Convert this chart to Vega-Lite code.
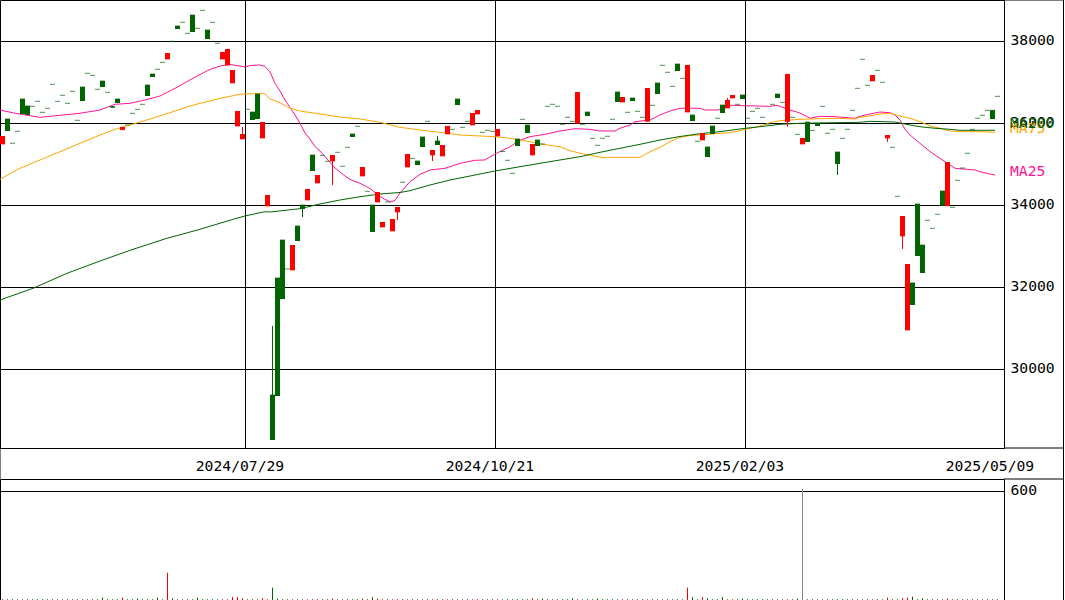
{
"$schema":"https://vega.github.io/schema/vega-lite/v6.json",
"padding":{"left":-1,"top":-1,"right":0,"bottom":0},
"background":"white",
"spacing":31,
"bounds":"flush",
"config":{
 "view":{"stroke":"black","strokeWidth":1},
 "axis":{"labelFont":"DejaVu Sans Mono","labelFontSize":14.7,"labelColor":"black","domain":false,"ticks":false,"tickSize":0,"gridColor":"black","gridOpacity":1,"gridWidth":1},
 "text":{"font":"DejaVu Sans Mono","fontSize":14.7}
},
"datasets":{
"candles":[
{"i":0,"o":35683,"h":35683,"l":35488,"c":35488,"v":4},
{"i":1,"o":35805,"h":36098,"l":35805,"c":36098,"v":4},
{"i":2,"o":35505,"h":35505,"l":35505,"c":35505,"v":4},
{"i":3,"o":35798,"h":35798,"l":35798,"c":35798,"v":4},
{"i":4,"o":36220,"h":36585,"l":36220,"c":36585,"v":4},
{"i":5,"o":36195,"h":36415,"l":36195,"c":36415,"v":4},
{"i":6,"o":36407,"h":36407,"l":36407,"c":36407,"v":4},
{"i":7,"o":36529,"h":36529,"l":36529,"c":36529,"v":4},
{"i":8,"o":36261,"h":36261,"l":36261,"c":36261,"v":4},
{"i":9,"o":36359,"h":36359,"l":36359,"c":36359,"v":4},
{"i":10,"o":36944,"h":36944,"l":36944,"c":36944,"v":4},
{"i":11,"o":36529,"h":36529,"l":36529,"c":36529,"v":4},
{"i":12,"o":36676,"h":36676,"l":36676,"c":36676,"v":4},
{"i":13,"o":36480,"h":36480,"l":36480,"c":36480,"v":4},
{"i":14,"o":36773,"h":36773,"l":36773,"c":36773,"v":4},
{"i":15,"o":36066,"h":36066,"l":36066,"c":36066,"v":4},
{"i":16,"o":36537,"h":36878,"l":36537,"c":36878,"v":4},
{"i":17,"o":37212,"h":37212,"l":37212,"c":37212,"v":4},
{"i":18,"o":37163,"h":37163,"l":37163,"c":37163,"v":4},
{"i":19,"o":36822,"h":36822,"l":36822,"c":36822,"v":4},
{"i":20,"o":36878,"h":37024,"l":36878,"c":37024,"v":13},
{"i":21,"o":36749,"h":36749,"l":36749,"c":36749,"v":4},
{"i":22,"o":36373,"h":36402,"l":36373,"c":36402,"v":4},
{"i":23,"o":36488,"h":36585,"l":36488,"c":36585,"v":4},
{"i":24,"o":35902,"h":35902,"l":35837,"c":35837,"v":13},
{"i":25,"o":35951,"h":35951,"l":35951,"c":35951,"v":4},
{"i":26,"o":36237,"h":36237,"l":36237,"c":36237,"v":4},
{"i":27,"o":36334,"h":36334,"l":36334,"c":36334,"v":8},
{"i":28,"o":36456,"h":36456,"l":36456,"c":36456,"v":4},
{"i":29,"o":36659,"h":36927,"l":36659,"c":36927,"v":4},
{"i":30,"o":37122,"h":37195,"l":37122,"c":37195,"v":4},
{"i":31,"o":37310,"h":37310,"l":37310,"c":37310,"v":13},
{"i":32,"o":37480,"h":37480,"l":37480,"c":37480,"v":4},
{"i":33,"o":37707,"h":37707,"l":37561,"c":37561,"v":150},
{"i":34,"o":37993,"h":37993,"l":37993,"c":37993,"v":10},
{"i":35,"o":38293,"h":38366,"l":38293,"c":38366,"v":4},
{"i":36,"o":38456,"h":38456,"l":38456,"c":38456,"v":4},
{"i":37,"o":38188,"h":38188,"l":38188,"c":38188,"v":4},
{"i":38,"o":38220,"h":38634,"l":38220,"c":38634,"v":4},
{"i":39,"o":38310,"h":38310,"l":38310,"c":38310,"v":13},
{"i":40,"o":38749,"h":38749,"l":38749,"c":38749,"v":4},
{"i":41,"o":38049,"h":38268,"l":38049,"c":38268,"v":4},
{"i":42,"o":38456,"h":38456,"l":38456,"c":38456,"v":4},
{"i":43,"o":37944,"h":37944,"l":37944,"c":37944,"v":4},
{"i":44,"o":37732,"h":37732,"l":37561,"c":37561,"v":4},
{"i":45,"o":37805,"h":37805,"l":37415,"c":37415,"v":4},
{"i":46,"o":37293,"h":37293,"l":36976,"c":36976,"v":16},
{"i":47,"o":36293,"h":36293,"l":35927,"c":35927,"v":16},
{"i":48,"o":35732,"h":35902,"l":35610,"c":35610,"v":10},
{"i":49,"o":36334,"h":36334,"l":36334,"c":36334,"v":4},
{"i":50,"o":36073,"h":36268,"l":36073,"c":36268,"v":4},
{"i":51,"o":36098,"h":36707,"l":36098,"c":36707,"v":4},
{"i":52,"o":36024,"h":36024,"l":35634,"c":35634,"v":10},
{"i":53,"o":34244,"h":34244,"l":33976,"c":33976,"v":4},
{"i":54,"o":28268,"h":31049,"l":28268,"c":29366,"v":68},
{"i":55,"o":29342,"h":32220,"l":29342,"c":32220,"v":8},
{"i":56,"o":31707,"h":33146,"l":31707,"c":33146,"v":4},
{"i":57,"o":32439,"h":32439,"l":32439,"c":32439,"v":4},
{"i":58,"o":33024,"h":33024,"l":32415,"c":32415,"v":4},
{"i":59,"o":33122,"h":33488,"l":33122,"c":33488,"v":4},
{"i":60,"o":33902,"h":34000,"l":33707,"c":34000,"v":4},
{"i":61,"o":34390,"h":34390,"l":34122,"c":34122,"v":4},
{"i":62,"o":34829,"h":35220,"l":34829,"c":35220,"v":4},
{"i":63,"o":34732,"h":34732,"l":34537,"c":34537,"v":4},
{"i":64,"o":35212,"h":35212,"l":35212,"c":35212,"v":4},
{"i":65,"o":35066,"h":35066,"l":35066,"c":35066,"v":4},
{"i":66,"o":35220,"h":35220,"l":34488,"c":35073,"v":8},
{"i":67,"o":35285,"h":35285,"l":35285,"c":35285,"v":4},
{"i":68,"o":34944,"h":34944,"l":34944,"c":34944,"v":4},
{"i":69,"o":35407,"h":35407,"l":35407,"c":35407,"v":4},
{"i":70,"o":35659,"h":35732,"l":35659,"c":35732,"v":4},
{"i":71,"o":35920,"h":35920,"l":35920,"c":35920,"v":4},
{"i":72,"o":34927,"h":34927,"l":34707,"c":34707,"v":8},
{"i":73,"o":34334,"h":34334,"l":34334,"c":34334,"v":4},
{"i":74,"o":33342,"h":34000,"l":33342,"c":34000,"v":16},
{"i":75,"o":34317,"h":34317,"l":34073,"c":34073,"v":8},
{"i":76,"o":33585,"h":33585,"l":33463,"c":33463,"v":4},
{"i":77,"o":34073,"h":34073,"l":34073,"c":34073,"v":4},
{"i":78,"o":33659,"h":33659,"l":33366,"c":33366,"v":4},
{"i":79,"o":33951,"h":33951,"l":33634,"c":33829,"v":4},
{"i":80,"o":34554,"h":34554,"l":34554,"c":34554,"v":4},
{"i":81,"o":35244,"h":35244,"l":34927,"c":34927,"v":4},
{"i":82,"o":35139,"h":35139,"l":35139,"c":35139,"v":4},
{"i":83,"o":34976,"h":35073,"l":34976,"c":35073,"v":4},
{"i":84,"o":35415,"h":35659,"l":35415,"c":35659,"v":4},
{"i":85,"o":36041,"h":36041,"l":36041,"c":36041,"v":4},
{"i":86,"o":35342,"h":35342,"l":35073,"c":35220,"v":4},
{"i":87,"o":35463,"h":35683,"l":35463,"c":35561,"v":4},
{"i":88,"o":35463,"h":35463,"l":35195,"c":35195,"v":4},
{"i":89,"o":35927,"h":35927,"l":35732,"c":35732,"v":4},
{"i":90,"o":35846,"h":35846,"l":35846,"c":35846,"v":4},
{"i":91,"o":36439,"h":36585,"l":36439,"c":36585,"v":4},
{"i":92,"o":35895,"h":35895,"l":35895,"c":35895,"v":4},
{"i":93,"o":36041,"h":36041,"l":36041,"c":36041,"v":4},
{"i":94,"o":36244,"h":36244,"l":35951,"c":35951,"v":4},
{"i":95,"o":36317,"h":36317,"l":36220,"c":36220,"v":4},
{"i":96,"o":35773,"h":35773,"l":35773,"c":35773,"v":4},
{"i":97,"o":35822,"h":35822,"l":35822,"c":35822,"v":4},
{"i":98,"o":35798,"h":35798,"l":35798,"c":35798,"v":4},
{"i":99,"o":35854,"h":35854,"l":35683,"c":35683,"v":4},
{"i":100,"o":35305,"h":35305,"l":35305,"c":35305,"v":4},
{"i":101,"o":35090,"h":35090,"l":35090,"c":35090,"v":4},
{"i":102,"o":34773,"h":34773,"l":34773,"c":34773,"v":4},
{"i":103,"o":35439,"h":35610,"l":35439,"c":35610,"v":4},
{"i":104,"o":36090,"h":36090,"l":36090,"c":36090,"v":4},
{"i":105,"o":35756,"h":35951,"l":35756,"c":35951,"v":4},
{"i":106,"o":35488,"h":35488,"l":35220,"c":35220,"v":10},
{"i":107,"o":35439,"h":35585,"l":35439,"c":35585,"v":4},
{"i":108,"o":35488,"h":35488,"l":35488,"c":35488,"v":8},
{"i":109,"o":36407,"h":36407,"l":36407,"c":36407,"v":4},
{"i":110,"o":36456,"h":36456,"l":36456,"c":36456,"v":4},
{"i":111,"o":36407,"h":36407,"l":36407,"c":36407,"v":4},
{"i":112,"o":35968,"h":35968,"l":35968,"c":35968,"v":4},
{"i":113,"o":36139,"h":36139,"l":36139,"c":36139,"v":4},
{"i":114,"o":36041,"h":36041,"l":36041,"c":36041,"v":10},
{"i":115,"o":36756,"h":36756,"l":35993,"c":35993,"v":4},
{"i":116,"o":35968,"h":35968,"l":35968,"c":35968,"v":4},
{"i":117,"o":36171,"h":36268,"l":36171,"c":36268,"v":4},
{"i":118,"o":35627,"h":35627,"l":35627,"c":35627,"v":4},
{"i":119,"o":35456,"h":35456,"l":35456,"c":35456,"v":8},
{"i":120,"o":35627,"h":35627,"l":35627,"c":35627,"v":4},
{"i":121,"o":35676,"h":35676,"l":35676,"c":35676,"v":4},
{"i":122,"o":36090,"h":36090,"l":36090,"c":36090,"v":4},
{"i":123,"o":36512,"h":36756,"l":36512,"c":36756,"v":4},
{"i":124,"o":36634,"h":36634,"l":36512,"c":36512,"v":4},
{"i":125,"o":36261,"h":36261,"l":36261,"c":36261,"v":4},
{"i":126,"o":36537,"h":36610,"l":36537,"c":36610,"v":4},
{"i":127,"o":36285,"h":36285,"l":36285,"c":36285,"v":4},
{"i":128,"o":36139,"h":36139,"l":36139,"c":36139,"v":4},
{"i":129,"o":36854,"h":36854,"l":36041,"c":36041,"v":4},
{"i":130,"o":36432,"h":36432,"l":36432,"c":36432,"v":4},
{"i":131,"o":36707,"h":36976,"l":36707,"c":36976,"v":4},
{"i":132,"o":37407,"h":37407,"l":37407,"c":37407,"v":4},
{"i":133,"o":37237,"h":37237,"l":37237,"c":37237,"v":4},
{"i":134,"o":36895,"h":36895,"l":36895,"c":36895,"v":4},
{"i":135,"o":37268,"h":37439,"l":37268,"c":37439,"v":4},
{"i":136,"o":37090,"h":37090,"l":37090,"c":37090,"v":4},
{"i":137,"o":37415,"h":37415,"l":36268,"c":36268,"v":68},
{"i":138,"o":36049,"h":36195,"l":36049,"c":36195,"v":16},
{"i":139,"o":35554,"h":35554,"l":35554,"c":35554,"v":4},
{"i":140,"o":35756,"h":35756,"l":35585,"c":35585,"v":16},
{"i":141,"o":35171,"h":35415,"l":35171,"c":35415,"v":10},
{"i":142,"o":35732,"h":35927,"l":35732,"c":35927,"v":4},
{"i":143,"o":36115,"h":36115,"l":36115,"c":36115,"v":4},
{"i":144,"o":36244,"h":36439,"l":36244,"c":36439,"v":16},
{"i":145,"o":36561,"h":36610,"l":36366,"c":36366,"v":4},
{"i":146,"o":36683,"h":36683,"l":36610,"c":36610,"v":4},
{"i":147,"o":36456,"h":36456,"l":36456,"c":36456,"v":4},
{"i":148,"o":36585,"h":36683,"l":36585,"c":36683,"v":8},
{"i":149,"o":36115,"h":36115,"l":36115,"c":36115,"v":4},
{"i":150,"o":36285,"h":36285,"l":36285,"c":36285,"v":4},
{"i":151,"o":36359,"h":36359,"l":36359,"c":36359,"v":4},
{"i":152,"o":36139,"h":36139,"l":36139,"c":36139,"v":4},
{"i":153,"o":35976,"h":35976,"l":35976,"c":35976,"v":4},
{"i":154,"o":36456,"h":36456,"l":36456,"c":36456,"v":4},
{"i":155,"o":36610,"h":36707,"l":36610,"c":36707,"v":4},
{"i":156,"o":36505,"h":36505,"l":36505,"c":36505,"v":4},
{"i":157,"o":37195,"h":37195,"l":35910,"c":36037,"v":4},
{"i":158,"o":36139,"h":36139,"l":36139,"c":36139,"v":4},
{"i":159,"o":35724,"h":35724,"l":35724,"c":35724,"v":8},
{"i":160,"o":35634,"h":35634,"l":35488,"c":35488,"v":612},
{"i":161,"o":35537,"h":36024,"l":35537,"c":36024,"v":4},
{"i":162,"o":35822,"h":35822,"l":35822,"c":35822,"v":4},
{"i":163,"o":35927,"h":35993,"l":35927,"c":35993,"v":4},
{"i":164,"o":36407,"h":36407,"l":36407,"c":36407,"v":4},
{"i":165,"o":35749,"h":35749,"l":35749,"c":35749,"v":4},
{"i":166,"o":35846,"h":35846,"l":35846,"c":35846,"v":4},
{"i":167,"o":35000,"h":35293,"l":34732,"c":35293,"v":4},
{"i":168,"o":35627,"h":35627,"l":35627,"c":35627,"v":4},
{"i":169,"o":35846,"h":35846,"l":35846,"c":35846,"v":4},
{"i":170,"o":36310,"h":36310,"l":36310,"c":36310,"v":4},
{"i":171,"o":36846,"h":36846,"l":36846,"c":36846,"v":4},
{"i":172,"o":37554,"h":37554,"l":37554,"c":37554,"v":4},
{"i":173,"o":36920,"h":36920,"l":36920,"c":36920,"v":4},
{"i":174,"o":37171,"h":37171,"l":37024,"c":37024,"v":4},
{"i":175,"o":37285,"h":37285,"l":37285,"c":37285,"v":4},
{"i":176,"o":36993,"h":36993,"l":36993,"c":36993,"v":4},
{"i":177,"o":35707,"h":35707,"l":35537,"c":35634,"v":13},
{"i":178,"o":35407,"h":35407,"l":35407,"c":35407,"v":4},
{"i":179,"o":34212,"h":34212,"l":34212,"c":34212,"v":4},
{"i":180,"o":33732,"h":33732,"l":32927,"c":33244,"v":10},
{"i":181,"o":32561,"h":32561,"l":30951,"c":30951,"v":13},
{"i":182,"o":31561,"h":32098,"l":31561,"c":32098,"v":18},
{"i":183,"o":32756,"h":34024,"l":32756,"c":34024,"v":4},
{"i":184,"o":32341,"h":33024,"l":32341,"c":33024,"v":10},
{"i":185,"o":33627,"h":33627,"l":33627,"c":33627,"v":4},
{"i":186,"o":33432,"h":33432,"l":33432,"c":33432,"v":4},
{"i":187,"o":33773,"h":33773,"l":33773,"c":33773,"v":4},
{"i":188,"o":33983,"h":34342,"l":33983,"c":34342,"v":4},
{"i":189,"o":35049,"h":35049,"l":33983,"c":33983,"v":8},
{"i":190,"o":33944,"h":33944,"l":33944,"c":33944,"v":4},
{"i":191,"o":34602,"h":34602,"l":34602,"c":34602,"v":4},
{"i":192,"o":34902,"h":34902,"l":34902,"c":34902,"v":4},
{"i":193,"o":35261,"h":35261,"l":35261,"c":35261,"v":4},
{"i":194,"o":35846,"h":35846,"l":35846,"c":35846,"v":4},
{"i":195,"o":36115,"h":36115,"l":36115,"c":36115,"v":4},
{"i":196,"o":36188,"h":36188,"l":36188,"c":36188,"v":4},
{"i":197,"o":36310,"h":36310,"l":36310,"c":36310,"v":4},
{"i":198,"o":36098,"h":36310,"l":36098,"c":36310,"v":4},
{"i":199,"o":36651,"h":36651,"l":36651,"c":36651,"v":4}
],
"ma":[
{"s":"MA25","i":-0.5,"v":36317},{"s":"MA25","i":2.5,"v":36237},{"s":"MA25","i":7.5,"v":36139},{"s":"MA25","i":11.5,"v":36188},{"s":"MA25","i":15.5,"v":36237},{"s":"MA25","i":19.5,"v":36317},{"s":"MA25","i":22.5,"v":36456},{"s":"MA25","i":25.5,"v":36480},{"s":"MA25","i":28.5,"v":36561},{"s":"MA25","i":31.5,"v":36659},{"s":"MA25","i":34.5,"v":36846},{"s":"MA25","i":37.5,"v":37049},{"s":"MA25","i":39.5,"v":37183},{"s":"MA25","i":41.5,"v":37305},{"s":"MA25","i":43.5,"v":37390},{"s":"MA25","i":45.5,"v":37427},{"s":"MA25","i":47.5,"v":37390},{"s":"MA25","i":48.5,"v":37366},{"s":"MA25","i":49.5,"v":37402},{"s":"MA25","i":51.5,"v":37415},{"s":"MA25","i":52.5,"v":37378},{"s":"MA25","i":53.5,"v":37244},{"s":"MA25","i":54.5,"v":36968},{"s":"MA25","i":55.5,"v":36780},{"s":"MA25","i":56.5,"v":36561},{"s":"MA25","i":57.5,"v":36378},{"s":"MA25","i":58.5,"v":36195},{"s":"MA25","i":59.5,"v":35993},{"s":"MA25","i":60.5,"v":35756},{"s":"MA25","i":61.5,"v":35610},{"s":"MA25","i":62.5,"v":35422},{"s":"MA25","i":63.5,"v":35317},{"s":"MA25","i":64.5,"v":35178},{"s":"MA25","i":65.5,"v":35037},{"s":"MA25","i":66.5,"v":34902},{"s":"MA25","i":67.5,"v":34805},{"s":"MA25","i":68.5,"v":34707},{"s":"MA25","i":69.5,"v":34622},{"s":"MA25","i":71.5,"v":34529},{"s":"MA25","i":73.5,"v":34402},{"s":"MA25","i":75.5,"v":34207},{"s":"MA25","i":77.5,"v":34073},{"s":"MA25","i":78.5,"v":34110},{"s":"MA25","i":79.5,"v":34293},{"s":"MA25","i":81.5,"v":34568},{"s":"MA25","i":83.5,"v":34749},{"s":"MA25","i":85.5,"v":34854},{"s":"MA25","i":88.5,"v":34895},{"s":"MA25","i":91.5,"v":35017},{"s":"MA25","i":94.5,"v":35090},{"s":"MA25","i":96.5,"v":35098},{"s":"MA25","i":98.5,"v":35244},{"s":"MA25","i":101.5,"v":35422},{"s":"MA25","i":103.5,"v":35585},{"s":"MA25","i":105.5,"v":35666},{"s":"MA25","i":108.5,"v":35724},{"s":"MA25","i":111.5,"v":35805},{"s":"MA25","i":114.5,"v":35861},{"s":"MA25","i":117.5,"v":35846},{"s":"MA25","i":119.5,"v":35805},{"s":"MA25","i":122.5,"v":35805},{"s":"MA25","i":123.5,"v":35871},{"s":"MA25","i":125.5,"v":35951},{"s":"MA25","i":126.5,"v":36032},{"s":"MA25","i":129.5,"v":36073},{"s":"MA25","i":131.5,"v":36195},{"s":"MA25","i":133.5,"v":36293},{"s":"MA25","i":135.5,"v":36359},{"s":"MA25","i":139.5,"v":36359},{"s":"MA25","i":140.5,"v":36317},{"s":"MA25","i":143.1,"v":36317},{"s":"MA25","i":144.5,"v":36398},{"s":"MA25","i":145.5,"v":36432},{"s":"MA25","i":150.5,"v":36415},{"s":"MA25","i":153.5,"v":36407},{"s":"MA25","i":154.9,"v":36432},{"s":"MA25","i":156.5,"v":36359},{"s":"MA25","i":157.5,"v":36317},{"s":"MA25","i":159.5,"v":36244},{"s":"MA25","i":161.5,"v":36115},{"s":"MA25","i":163.5,"v":36163},{"s":"MA25","i":166.5,"v":36154},{"s":"MA25","i":170.5,"v":36115},{"s":"MA25","i":171.5,"v":36163},{"s":"MA25","i":173.5,"v":36220},{"s":"MA25","i":175.5,"v":36268},{"s":"MA25","i":177.5,"v":36251},{"s":"MA25","i":178.5,"v":36195},{"s":"MA25","i":179.5,"v":36073},{"s":"MA25","i":180.5,"v":35846},{"s":"MA25","i":181.5,"v":35707},{"s":"MA25","i":183.5,"v":35505},{"s":"MA25","i":185.5,"v":35300},{"s":"MA25","i":187.5,"v":35139},{"s":"MA25","i":189.5,"v":34976},{"s":"MA25","i":190.5,"v":34895},{"s":"MA25","i":194.5,"v":34854},{"s":"MA25","i":195.5,"v":34812},{"s":"MA25","i":197.5,"v":34756},{"s":"MA25","i":198.5,"v":34732},
{"s":"MA75","i":-0.5,"v":34627},{"s":"MA75","i":3.5,"v":34895},{"s":"MA75","i":7.5,"v":35098},{"s":"MA75","i":11.5,"v":35300},{"s":"MA75","i":15.5,"v":35505},{"s":"MA75","i":19.5,"v":35707},{"s":"MA75","i":22.5,"v":35846},{"s":"MA75","i":25.5,"v":35951},{"s":"MA75","i":29.5,"v":36098},{"s":"MA75","i":33.5,"v":36251},{"s":"MA75","i":37.5,"v":36415},{"s":"MA75","i":39.5,"v":36480},{"s":"MA75","i":43.5,"v":36602},{"s":"MA75","i":47.5,"v":36700},{"s":"MA75","i":51.5,"v":36724},{"s":"MA75","i":52.5,"v":36707},{"s":"MA75","i":53.5,"v":36585},{"s":"MA75","i":55.5,"v":36495},{"s":"MA75","i":57.5,"v":36359},{"s":"MA75","i":59.5,"v":36293},{"s":"MA75","i":63.5,"v":36220},{"s":"MA75","i":67.5,"v":36146},{"s":"MA75","i":71.5,"v":36098},{"s":"MA75","i":75.5,"v":36017},{"s":"MA75","i":79.5,"v":35895},{"s":"MA75","i":83.5,"v":35829},{"s":"MA75","i":87.5,"v":35773},{"s":"MA75","i":91.5,"v":35707},{"s":"MA75","i":95.5,"v":35683},{"s":"MA75","i":98.5,"v":35666},{"s":"MA75","i":101.5,"v":35627},{"s":"MA75","i":103.5,"v":35585},{"s":"MA75","i":105.5,"v":35544},{"s":"MA75","i":107.5,"v":35488},{"s":"MA75","i":111.5,"v":35422},{"s":"MA75","i":113.5,"v":35324},{"s":"MA75","i":115.5,"v":35261},{"s":"MA75","i":117.5,"v":35220},{"s":"MA75","i":119.5,"v":35163},{"s":"MA75","i":127.5,"v":35163},{"s":"MA75","i":129.5,"v":35300},{"s":"MA75","i":131.5,"v":35407},{"s":"MA75","i":133.5,"v":35544},{"s":"MA75","i":135.5,"v":35651},{"s":"MA75","i":137.5,"v":35695},{"s":"MA75","i":141.5,"v":35724},{"s":"MA75","i":143.5,"v":35749},{"s":"MA75","i":145.5,"v":35763},{"s":"MA75","i":147.5,"v":35812},{"s":"MA75","i":149.5,"v":35871},{"s":"MA75","i":151.5,"v":35927},{"s":"MA75","i":153.5,"v":36007},{"s":"MA75","i":155.5,"v":36056},{"s":"MA75","i":157.5,"v":36073},{"s":"MA75","i":159.5,"v":36090},{"s":"MA75","i":166.5,"v":36115},{"s":"MA75","i":170.5,"v":36098},{"s":"MA75","i":171.5,"v":36139},{"s":"MA75","i":173.5,"v":36171},{"s":"MA75","i":175.5,"v":36220},{"s":"MA75","i":177.5,"v":36237},{"s":"MA75","i":179.5,"v":36171},{"s":"MA75","i":181.5,"v":36115},{"s":"MA75","i":183.5,"v":36032},{"s":"MA75","i":185.5,"v":35927},{"s":"MA75","i":187.5,"v":35871},{"s":"MA75","i":189.5,"v":35805},{"s":"MA75","i":191.5,"v":35788},{"s":"MA75","i":195.5,"v":35788},{"s":"MA75","i":198.5,"v":35773},
{"s":"MA200","i":-0.5,"v":31683},{"s":"MA200","i":6.1,"v":31968},{"s":"MA200","i":12.9,"v":32334},{"s":"MA200","i":19.5,"v":32634},{"s":"MA200","i":26.1,"v":32919},{"s":"MA200","i":32.9,"v":33188},{"s":"MA200","i":39.5,"v":33407},{"s":"MA200","i":46.1,"v":33651},{"s":"MA200","i":48.5,"v":33732},{"s":"MA200","i":52.5,"v":33837},{"s":"MA200","i":53.5,"v":33829},{"s":"MA200","i":59.5,"v":33910},{"s":"MA200","i":63.5,"v":34024},{"s":"MA200","i":67.5,"v":34122},{"s":"MA200","i":71.5,"v":34202},{"s":"MA200","i":75.5,"v":34268},{"s":"MA200","i":79.5,"v":34305},{"s":"MA200","i":81.5,"v":34349},{"s":"MA200","i":85.5,"v":34488},{"s":"MA200","i":89.5,"v":34610},{"s":"MA200","i":93.5,"v":34707},{"s":"MA200","i":98.5,"v":34829},{"s":"MA200","i":103.5,"v":34934},{"s":"MA200","i":107.5,"v":35017},{"s":"MA200","i":111.5,"v":35098},{"s":"MA200","i":115.5,"v":35178},{"s":"MA200","i":119.5,"v":35285},{"s":"MA200","i":123.5,"v":35383},{"s":"MA200","i":127.5,"v":35480},{"s":"MA200","i":131.5,"v":35585},{"s":"MA200","i":135.5,"v":35671},{"s":"MA200","i":139.5,"v":35739},{"s":"MA200","i":143.5,"v":35788},{"s":"MA200","i":147.5,"v":35854},{"s":"MA200","i":151.5,"v":35910},{"s":"MA200","i":155.5,"v":35968},{"s":"MA200","i":159.5,"v":35993},{"s":"MA200","i":171.5,"v":36017},{"s":"MA200","i":173.5,"v":36041},{"s":"MA200","i":178.5,"v":36024},{"s":"MA200","i":181.5,"v":35951},{"s":"MA200","i":183.5,"v":35910},{"s":"MA200","i":186.5,"v":35871},{"s":"MA200","i":189.5,"v":35846},{"s":"MA200","i":191.5,"v":35822},{"s":"MA200","i":198.5,"v":35822}
]
},
"vconcat":[
{
 "width":1004,"height":448,
 "layer":[
  {"data":{"name":"ma"},"mark":{"type":"line","strokeWidth":1,"strokeJoin":"round","clip":true},
   "encoding":{
    "x":{"field":"i","type":"quantitative","scale":{"domain":[-0.5,200.3],"nice":false,"zero":false,"padding":0},
     "axis":{"orient":"bottom","title":null,"values":[48.5,98.5,148.5,198.5],
      "labelExpr":"datum.value < 60 ? '2024/07/29' : datum.value < 110 ? '2024/10/21' : datum.value < 160 ? '2025/02/03' : '2025/05/09'",
      "labelOffset":-5.5,"labelPadding":10,"labelFlush":false,"labelOverlap":false,"labelBound":false,
      "grid":true,"gridOpacity":{"condition":{"test":"datum.value > 190","value":0},"value":1}}},
    "y":{"field":"v","type":"quantitative","scale":{"domain":[28073,39000],"nice":false,"zero":false,"padding":0},
     "axis":{"orient":"right","title":null,"values":[30000,32000,34000,36000,38000],"format":"d","labelPadding":6,"labelBaseline":"middle","grid":true}},
    "color":{"field":"s","type":"nominal","scale":{"domain":["MA25","MA75","MA200"],"range":["#ff1493","#ffa500","#006400"]},"legend":null}
   }},
  {"data":{"name":"candles"},"mark":{"type":"rule","strokeWidth":1},
   "encoding":{
    "x":{"field":"i","type":"quantitative"},
    "y":{"field":"l","type":"quantitative"},"y2":{"field":"h"},
    "color":{"condition":{"test":"datum.c < datum.o","value":"#ff0000"},"value":"#006400"}
   }},
  {"data":{"name":"candles"},"mark":{"type":"bar","width":5},
   "encoding":{
    "x":{"field":"i","type":"quantitative"},
    "y":{"field":"o","type":"quantitative"},"y2":{"field":"c"},
    "color":{"condition":{"test":"datum.c < datum.o","value":"#ff0000"},"value":"#006400"}
   }},
  {"data":{"name":"candles"},"mark":{"type":"tick","orient":"horizontal","size":5,"thickness":1},
   "encoding":{
    "x":{"field":"i","type":"quantitative"},
    "y":{"field":"c","type":"quantitative"},
    "color":{"condition":{"test":"datum.c < datum.o","value":"#ff0000"},"value":"#006400"}
   }},
  {"data":{"name":"ma"},"transform":[{"filter":"datum.i > 198 && datum.s != 'MA200'"}],
   "mark":{"type":"text","align":"left","baseline":"middle","dx":15,"dy":-3},
   "encoding":{
    "x":{"field":"i","type":"quantitative"},
    "y":{"field":"v","type":"quantitative"},
    "text":{"field":"s"},
    "color":{"field":"s","type":"nominal","legend":null}
   }},
  {"data":{"name":"ma"},"transform":[{"filter":"datum.i > 198 && datum.s == 'MA200'"}],
   "mark":{"type":"text","align":"left","baseline":"middle","dx":15,"dy":-6},
   "encoding":{
    "x":{"field":"i","type":"quantitative"},
    "y":{"field":"v","type":"quantitative"},
    "text":{"field":"s"},
    "color":{"field":"s","type":"nominal","legend":null}
   }},
  {"data":{"values":[{}]},"mark":{"type":"rule","color":"black","strokeWidth":1},
   "encoding":{"x":{"datum":200.3},"x2":{"datum":212.3},"y":{"datum":28073}}},
  {"data":{"values":[{}]},"mark":{"type":"rule","color":"black","strokeWidth":1},
   "encoding":{"x":{"datum":200.3},"x2":{"datum":212.3},"y":{"datum":39000}}},
  {"data":{"values":[{}]},"mark":{"type":"rule","color":"black","strokeWidth":1},
   "encoding":{"x":{"datum":212.2},"y":{"datum":39000},"y2":{"datum":27317}}},
  {"data":{"values":[{}]},"mark":{"type":"rule","color":"black","strokeWidth":1},
   "encoding":{"x":{"datum":-0.5},"y":{"datum":28073},"y2":{"datum":27317}}}
 ]
},
{
 "width":1004,"height":121,
 "layer":[
  {"data":{"name":"candles"},"mark":{"type":"rule","strokeWidth":1},
   "encoding":{
    "x":{"field":"i","type":"quantitative","scale":{"domain":[-0.5,200.3],"nice":false,"zero":false,"padding":0},"axis":null},
    "y":{"field":"v","type":"quantitative","scale":{"domain":[0,666],"nice":false,"zero":false,"padding":0},
     "axis":{"orient":"right","title":null,"values":[600],"format":"d","labelPadding":6,"labelBaseline":"middle","grid":true}},
    "y2":{"datum":0},
    "color":{"condition":[{"test":"datum.v > 500","value":"#888888"},{"test":"datum.c < datum.o","value":"#ff0000"}],"value":"#006400"}
   }},
  {"data":{"values":[{}]},"mark":{"type":"rule","color":"black","strokeWidth":1},
   "encoding":{"x":{"datum":200.3},"x2":{"datum":212.3},"y":{"datum":666}}},
  {"data":{"values":[{}]},"mark":{"type":"rule","color":"black","strokeWidth":1},
   "encoding":{"x":{"datum":212.2},"y":{"datum":666},"y2":{"datum":0}}}
 ]
}
]
}
